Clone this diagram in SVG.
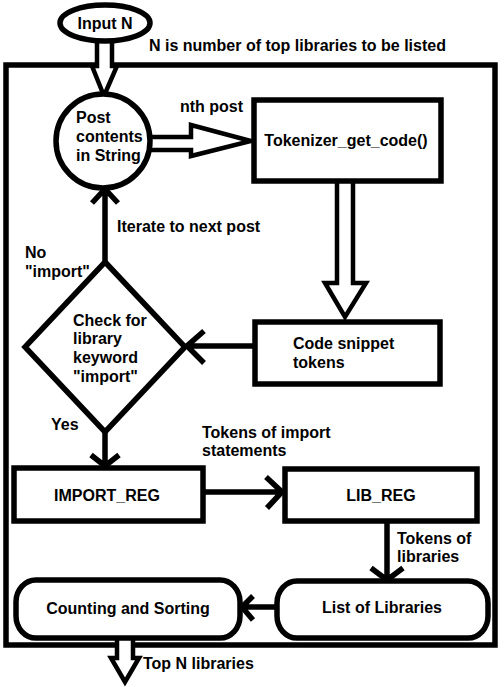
<svg xmlns="http://www.w3.org/2000/svg" width="504" height="687" viewBox="0 0 504 687">
<style>
.s{fill:none;stroke:#000;stroke-width:5.5}
.f{fill:#fff;stroke:#000;stroke-width:5.5}
.fa{fill:#fff;stroke:#000;stroke-width:4.5;stroke-linejoin:miter}
.t{font-family:"Liberation Sans",Arial,sans-serif;font-weight:bold;font-size:16px;fill:#000}
.c{text-anchor:middle}
</style>
<rect width="504" height="687" fill="#fff"/>
<rect id="frame" class="s" x="6" y="65" width="489" height="580"/>
<g id="connectors">
<path class="fa" d="M97,40 V66 H92 L104,96 L117,66 H112 V40"/>
<path class="fa" d="M150,137 H191 V125 L251,141 L191,156 V150 H150"/>
<path class="fa" d="M337,183 V283 H325 L345,317 L366,283 H353 V183"/>
<path class="s" d="M255,346 H187 M204,331 L187,346 L204,363"/>
<path class="s" d="M105,262 V189 M92,203 L105,189 L118,203"/>
<path class="s" d="M105,432 V466 M91,455 L105,466 L119,455"/>
<path class="s" d="M205,492 H282 M266,477 L282,492 L267,508"/>
<path class="s" d="M387,522 V580 M371,568 L387,580 L403,568"/>
<path class="s" d="M277,607 H242 M253,596 L242,607 L253,620"/>
<path class="fa" d="M117,639 V658 H111 L125,682 L139,658 H133 V639"/>
</g>
<g id="inputN">
<ellipse class="f" cx="105" cy="23" rx="45" ry="18"/>
<text class="t c" x="105" y="29">Input N</text>
</g>
<text class="t" x="149" y="51">N is number of top libraries to be listed</text>
<g id="post">
<circle class="f" cx="103" cy="141" r="47"/>
<text class="t" x="76" y="123">Post</text>
<text class="t" x="76" y="142">contents</text>
<text class="t" x="76" y="161">in String</text>
</g>
<text class="t" x="180" y="112">nth post</text>
<g id="tokenizer">
<rect class="f" x="254" y="100" width="187" height="81"/>
<text class="t c" x="346" y="146">Tokenizer_get_code()</text>
</g>
<g id="codesnippet">
<rect class="f" x="255" y="322" width="185" height="62"/>
<text class="t" x="293" y="349">Code snippet</text>
<text class="t" x="293" y="368">tokens</text>
</g>
<g id="check">
<polygon class="f" points="105,262 185,347 105,432 25,347"/>
<text class="t" x="73" y="326">Check for</text>
<text class="t" x="73" y="344">library</text>
<text class="t" x="73" y="363">keyword</text>
<text class="t" x="73" y="382">"import"</text>
</g>
<text class="t" x="117" y="232">Iterate to next post</text>
<text class="t" x="25" y="258">No</text>
<text class="t" x="25" y="277">"import"</text>
<text class="t" x="51" y="430">Yes</text>
<text class="t" x="202" y="438">Tokens of import</text>
<text class="t" x="202" y="456">statements</text>
<g id="importreg">
<rect class="f" x="14" y="468" width="189" height="53"/>
<text class="t c" x="107" y="501">IMPORT_REG</text>
</g>
<g id="libreg">
<rect class="f" x="285" y="469" width="192" height="52"/>
<text class="t c" x="381" y="501">LIB_REG</text>
</g>
<text class="t" x="397" y="544">Tokens of</text>
<text class="t" x="397" y="562">libraries</text>
<g id="list">
<rect class="f" x="277" y="581" width="211" height="57" rx="20" ry="22"/>
<text class="t c" x="382" y="613">List of Libraries</text>
</g>
<g id="counting">
<rect class="f" x="16" y="580" width="224" height="58" rx="20" ry="22"/>
<text class="t c" x="128" y="614">Counting and Sorting</text>
</g>
<text class="t" x="143" y="669">Top N libraries</text>
</svg>
